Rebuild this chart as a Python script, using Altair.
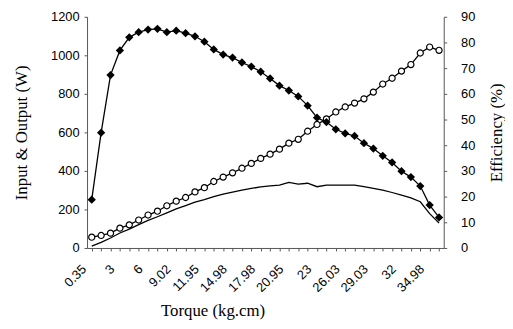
import altair as alt
import pandas as pd

torque = ["0.35", "1.02", "2.01", "3", "4.01", "5", "6", "7.03", "8", "9.02",
          "10", "11", "11.95", "13", "14", "14.98", "16", "17", "17.98", "19",
          "20", "20.95", "21.6", "22.3", "23", "24", "25", "26.03", "27", "28",
          "29.03", "30", "31", "32", "33", "34", "34.98", "36"]
tick_labels = ["0.35", "3", "6", "9.02", "11.95", "14.98", "17.98", "20.95",
               "23", "26.03", "29.03", "32", "34.98"]

input_w = [56, 65, 77, 103, 120, 145, 171, 191, 219, 243, 262, 291, 313, 345,
           368, 390, 414, 439, 465, 487, 513, 544, 564, 606, 641, 670, 706, 732,
           752, 774, 809, 851, 881, 918, 952, 1012, 1043, 1026]
output_w = [10, 29, 52, 78, 98, 121, 143, 162, 182, 203, 220, 238, 251, 266,
            279, 290, 300, 309, 317, 322, 326, 340, 331, 336, 318, 326, 326, 326,
            326, 318, 310, 300, 288, 274, 260, 240, 178, 130]
efficiency = [18.8, 44.9, 67.3, 76.9, 82.0, 84.0, 85.0, 85.3, 84.0, 84.6, 83.6,
              82.4, 80.3, 77.3, 75.3, 74.1, 72.2, 70.6, 68.6, 66.0, 63.2, 61.3,
              59.0, 55.4, 50.7, 49.0, 46.2, 44.6, 43.6, 40.8, 38.7, 35.9, 33.3,
              29.9, 27.6, 24.1, 16.7, 11.9]

df = pd.DataFrame({"torque": torque, "input": input_w,
                   "output": output_w, "eff": efficiency})

label_list = "[" + ",".join("'%s'" % t for t in tick_labels) + "]"

x = alt.X("torque:O", sort=torque,
          scale=alt.Scale(type="point", padding=0.5),
          axis=alt.Axis(title="Torque (kg.cm)", labelAngle=-45, labelAlign="right",
                        labelBaseline="middle", labelOffset=-8, labelPadding=16,
                        labelOverlap=False,
                        labelExpr="indexof(%s, datum.label) >= 0 ? datum.label : ''" % label_list,
                        tickSize=3, titleX=127, titleAlign="center", titlePadding=8))


def left_y(field):
    return alt.Y(field + ":Q", scale=alt.Scale(domain=[0, 1200]),
                 axis=alt.Axis(title="Input & Output (W)", values=list(range(0, 1201, 200)),
                               format="d", tickSize=3, labelPadding=5, titlePadding=20))


base = alt.Chart(df)

out_line = base.mark_line(color="black", strokeWidth=1.3).encode(x=x, y=left_y("output"))
in_line = base.mark_line(color="black", strokeWidth=1.3).encode(x=x, y=left_y("input"))
in_pts = base.mark_point(shape="circle", filled=True, fill="white", stroke="black",
                         strokeWidth=1.2, size=38, opacity=1).encode(x=x, y=left_y("input"))

left = alt.layer(out_line, in_line, in_pts)

y_right = alt.Y("eff:Q", scale=alt.Scale(domain=[0, 90]),
                axis=alt.Axis(title="Efficiency (%)", orient="right",
                              values=list(range(0, 91, 10)), tickSize=3,
                              labelPadding=14, titlePadding=14, titleAngle=270,
                              titleBaseline="top"))
eff_line = base.mark_line(color="black", strokeWidth=1.3).encode(x=x, y=y_right)
eff_pts = base.mark_point(shape="diamond", filled=True, color="black", size=70,
                          opacity=1).encode(x=x, y=y_right)
right = alt.layer(eff_line, eff_pts)

chart = alt.layer(left, right).resolve_scale(y="independent").properties(
    width=361, height=234,
    padding={"left": 5, "top": 1, "right": 0, "bottom": 0},
    background="white",
).configure_view(stroke=None).configure_axis(
    grid=False,
    domainColor="#555555",
    domainWidth=1,
    tickColor="#555555",
    labelFont="Liberation Sans",
    labelFontSize=13,
    labelColor="black",
    titleFont="Liberation Serif",
    titleFontSize=17,
    titleFontWeight="normal",
    titleColor="black",
)

chart.save("out.html", embed_options={"renderer": "svg", "actions": False})
